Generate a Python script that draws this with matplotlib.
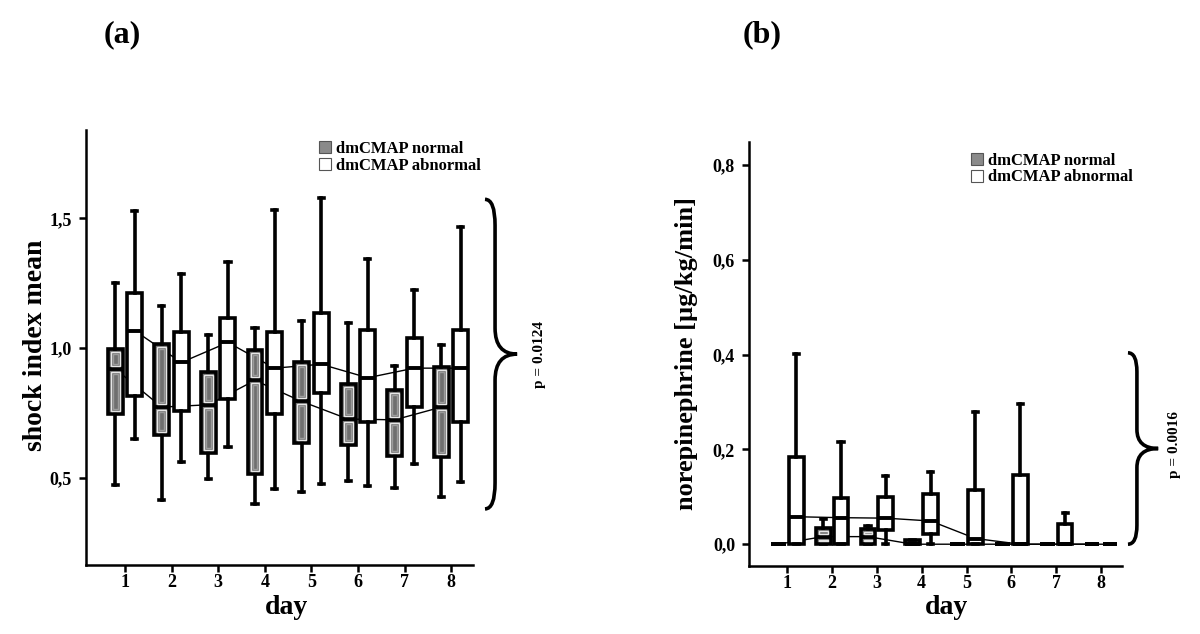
import numpy as np
import matplotlib
matplotlib.use('Agg')
import matplotlib.pyplot as plt
from matplotlib.patches import Rectangle, Patch, PathPatch
from matplotlib.path import Path
import matplotlib.transforms as mtransforms

plt.rcParams['font.family'] = ['Liberation Serif', 'DejaVu Serif']

days = [1, 2, 3, 4, 5, 6, 7, 8]
groups = ['dmCMAP normal', 'dmCMAP abnormal']

# (a) shock index mean -- whisker low, q1, median, q3, whisker high
si_norm_lo  = [0.472, 0.414, 0.497, 0.400, 0.445, 0.490, 0.463, 0.427]
si_norm_q1  = [0.745, 0.667, 0.595, 0.517, 0.635, 0.626, 0.586, 0.580]
si_norm_med = [0.920, 0.773, 0.782, 0.876, 0.795, 0.727, 0.724, 0.773]
si_norm_q3  = [0.996, 1.015, 0.909, 0.991, 0.945, 0.863, 0.838, 0.929]
si_norm_hi  = [1.251, 1.162, 1.050, 1.079, 1.105, 1.097, 0.933, 1.014]

si_abn_lo  = [0.650, 0.560, 0.620, 0.458, 0.476, 0.468, 0.555, 0.485]
si_abn_q1  = [0.814, 0.759, 0.804, 0.745, 0.828, 0.715, 0.773, 0.715]
si_abn_med = [1.067, 0.945, 1.022, 0.923, 0.938, 0.886, 0.923, 0.923]
si_abn_q3  = [1.213, 1.063, 1.117, 1.063, 1.137, 1.070, 1.040, 1.070]
si_abn_hi  = [1.529, 1.287, 1.332, 1.532, 1.578, 1.344, 1.222, 1.465]

# (b) norepinephrine [µg/kg/min]
ne_norm_lo  = [0, 0, 0, 0, 0, 0, 0, 0]
ne_norm_q1  = [0, 0, 0, 0, 0, 0, 0, 0]
ne_norm_med = [0, 0.016, 0.016, 0, 0, 0, 0, 0]
ne_norm_q3  = [0, 0.035, 0.032, 0.009, 0, 0, 0, 0]
ne_norm_hi  = [0, 0.053, 0.039, 0.009, 0, 0, 0, 0]

ne_abn_lo  = [0, 0, 0, 0, 0, 0, 0, 0]
ne_abn_q1  = [0, 0, 0.029, 0.0225, 0, 0, 0, 0]
ne_abn_med = [0.058, 0.056, 0.055, 0.049, 0.012, 0, 0, 0]
ne_abn_q3  = [0.184, 0.0985, 0.099, 0.106, 0.115, 0.146, 0.042, 0]
ne_abn_hi  = [0.402, 0.215, 0.143, 0.153, 0.279, 0.296, 0.065, 0]

p_a = 'p = 0.0124'
p_b = 'p = 0.0016'

GRAY = '#6f6f6f'


def make_stats(lo, q1, med, q3, hi):
    return [dict(whislo=a, q1=b, med=c, q3=d, whishi=e, fliers=[])
            for a, b, c, d, e in zip(lo, q1, med, q3, hi)]


def nested(ax, x, w, y0, y1):
    # concentric light outlines inside a gray box half
    px_x = (ax.get_xlim()[1] - ax.get_xlim()[0]) / ax.bbox.width
    px_y = (ax.get_ylim()[1] - ax.get_ylim()[0]) / ax.bbox.height
    for k, col, lw in [(3, '#e6e6e6', 1.0), (5, '#9c9c9c', 1.0), (7, '#ffffff', 0.9)]:
        dx, dy = k * px_x, k * px_y
        if y1 - y0 - 2 * dy <= px_y or w - 2 * dx <= px_x:
            continue
        ax.add_patch(Rectangle((x - w / 2 + dx, y0 + dy), w - 2 * dx, y1 - y0 - 2 * dy,
                               fill=False, edgecolor=col, lw=lw, zorder=4))


def brace(ax, x0, xm, x1, ytop, ybot, ymid, r):
    trans = mtransforms.blended_transform_factory(ax.transAxes, ax.transData)
    verts = [(x0, ytop), (xm, ytop), (xm, ytop - r),
             (xm, ymid + r), (xm, ymid), (x1, ymid),
             (xm, ymid), (xm, ymid - r),
             (xm, ybot + r), (xm, ybot), (x0, ybot)]
    codes = [Path.MOVETO, Path.CURVE3, Path.CURVE3,
             Path.LINETO, Path.CURVE3, Path.CURVE3,
             Path.CURVE3, Path.CURVE3,
             Path.LINETO, Path.CURVE3, Path.CURVE3]
    ax.add_patch(PathPatch(Path(verts, codes), transform=trans, fill=False,
                           lw=2.6, edgecolor='black', clip_on=False))


def panel(ax, norm, abn, off_n, off_a, width, xlim, ylim, yticks, ylabels):
    ax.set_xlim(*xlim)
    ax.set_ylim(*ylim)
    pos_n = [d + off_n for d in days]
    pos_a = [d + off_a for d in days]
    lw = 2.6
    common = dict(widths=width, showfliers=False, patch_artist=True,
                  whiskerprops=dict(lw=lw, color='black'),
                  capprops=dict(lw=lw, color='black'),
                  medianprops=dict(lw=2.8, color='black'))
    s_n = make_stats(*norm)
    s_a = make_stats(*abn)
    ax.bxp(s_a, positions=pos_a, boxprops=dict(lw=lw, edgecolor='black', facecolor='white'),
           capwidths=width * 0.35, **common)
    ax.bxp(s_n, positions=pos_n, boxprops=dict(lw=lw, edgecolor='black', facecolor=GRAY),
           capwidths=width * 0.35, **common)
    for p, s in zip(pos_n, s_n):
        nested(ax, p, width, s['med'], s['q3'])
        nested(ax, p, width, s['q1'], s['med'])
    ax.plot(pos_n, norm[2], color='black', lw=1.0, zorder=1)
    ax.plot(pos_a, abn[2], color='black', lw=1.0, zorder=1)

    ax.set_xlim(*xlim)
    ax.set_ylim(*ylim)
    ax.set_xticks(days)
    ax.set_xticklabels([str(d) for d in days])
    ax.set_yticks(yticks)
    ax.set_yticklabels(ylabels)
    for sp in ['top', 'right']:
        ax.spines[sp].set_visible(False)
    for sp in ['left', 'bottom']:
        ax.spines[sp].set_linewidth(1.8)
    ax.tick_params(direction='out', length=5, width=1.8, labelsize=13)
    ax.tick_params(axis='x', pad=1.5)
    ax.tick_params(axis='y', pad=5)
    for t in ax.get_xticklabels() + ax.get_yticklabels():
        t.set_fontweight('bold')

    handles = [Patch(facecolor='#8a8a8a', edgecolor='#555555', lw=0.8),
               Patch(facecolor='white', edgecolor='#555555', lw=0.8)]
    return handles


fig = plt.figure(figsize=(12, 6.34), dpi=100)
ax_a = fig.add_axes([86 / 1200, 1 - 565 / 634, 387 / 1200, 435 / 634])
ax_b = fig.add_axes([749 / 1200, 1 - 566 / 634, 373 / 1200, 424 / 634])

h = panel(ax_a,
          (si_norm_lo, si_norm_q1, si_norm_med, si_norm_q3, si_norm_hi),
          (si_abn_lo, si_abn_q1, si_abn_med, si_abn_q3, si_abn_hi),
          -0.21, 0.21, 0.32, (0.163, 8.47), (0.165, 1.84),
          [0.5, 1.0, 1.5], ['0,5', '1,0', '1,5'])
ax_a.legend(h, groups, loc='upper left', bbox_to_anchor=(0.602, 0.975), frameon=False,
            borderpad=0, borderaxespad=0, handlelength=0.75, handleheight=0.75,
            handletextpad=0.3, labelspacing=0.05, prop=dict(size=12, weight='bold'))

h = panel(ax_b,
          (ne_norm_lo, ne_norm_q1, ne_norm_med, ne_norm_q3, ne_norm_hi),
          (ne_abn_lo, ne_abn_q1, ne_abn_med, ne_abn_q3, ne_abn_hi),
          -0.2, 0.2, 0.33, (0.145, 8.47), (-0.046, 0.849),
          [0.0, 0.2, 0.4, 0.6, 0.8], ['0,0', '0,2', '0,4', '0,6', '0,8'])
ax_b.legend(h, groups, loc='upper left', bbox_to_anchor=(0.595, 0.975), frameon=False,
            borderpad=0, borderaxespad=0, handlelength=0.75, handleheight=0.75,
            handletextpad=0.3, labelspacing=0.05, prop=dict(size=12, weight='bold'))

brace(ax_a, 1.031, 1.057, 1.114, 1.573, 0.381, 0.977, 0.10)
brace(ax_b, 1.016, 1.040, 1.097, 0.404, 0.0, 0.202, 0.04)
ax_a.text(1.173, 0.977, p_a, transform=mtransforms.blended_transform_factory(ax_a.transAxes, ax_a.transData),
          rotation=90, ha='center', va='center', fontsize=11, fontweight='bold')
ax_b.text(1.142, 0.21, p_b, transform=mtransforms.blended_transform_factory(ax_b.transAxes, ax_b.transData),
          rotation=90, ha='center', va='center', fontsize=11, fontweight='bold')

fig.text(36 / 1200, 1 - 345 / 634, 'shock index mean', rotation=90, ha='center', va='center',
         fontsize=20, fontweight='bold')
fig.text(686 / 1200, 1 - 353 / 634, 'norepinephrine [µg/kg/min]', rotation=90, ha='center',
         va='center', fontsize=19, fontweight='bold')
fig.text(287 / 1200, 1 - 607 / 634, 'day', ha='center', va='center', fontsize=20, fontweight='bold')
fig.text(947 / 1200, 1 - 607 / 634, 'day', ha='center', va='center', fontsize=20, fontweight='bold')
fig.text(122 / 1200, 1 - 35 / 634, '(a)', ha='center', va='center', fontsize=23, fontweight='bold')
fig.text(762 / 1200, 1 - 35 / 634, '(b)', ha='center', va='center', fontsize=23, fontweight='bold')

fig.savefig('out.png', dpi=100)
